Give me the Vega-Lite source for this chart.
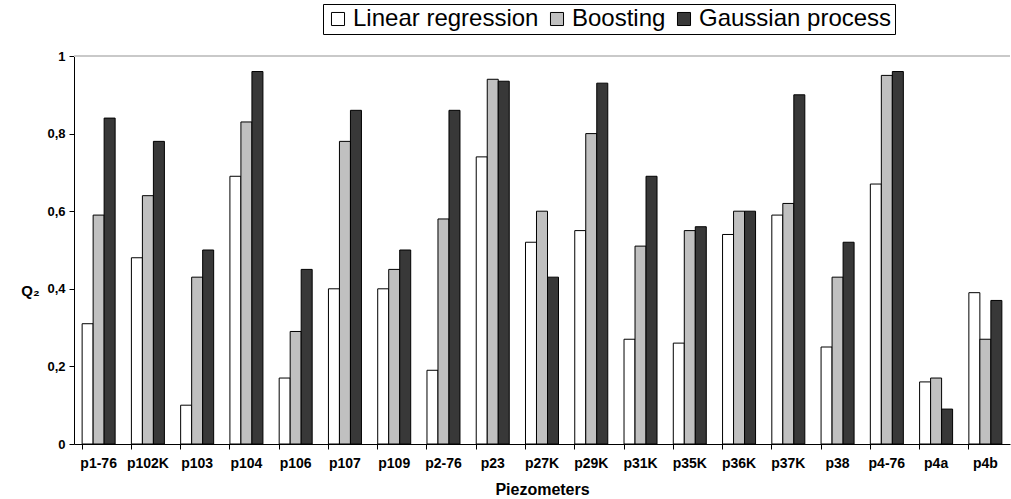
{
  "$schema": "https://vega.github.io/schema/vega-lite/v6.json",
  "width": 936,
  "height": 388,
  "autosize": {"type": "none"},
  "padding": {"left": 74, "top": 56, "right": 1, "bottom": 55},
  "background": "white",
  "config": {
    "view": {"stroke": null},
    "font": "Liberation Sans"
  },
  "data": {
    "values": [
      {"p": "p1-76", "m": "Linear regression", "q": 0.31},
      {"p": "p1-76", "m": "Boosting", "q": 0.59},
      {"p": "p1-76", "m": "Gaussian process", "q": 0.84},
      {"p": "p102K", "m": "Linear regression", "q": 0.48},
      {"p": "p102K", "m": "Boosting", "q": 0.64},
      {"p": "p102K", "m": "Gaussian process", "q": 0.78},
      {"p": "p103", "m": "Linear regression", "q": 0.10},
      {"p": "p103", "m": "Boosting", "q": 0.43},
      {"p": "p103", "m": "Gaussian process", "q": 0.50},
      {"p": "p104", "m": "Linear regression", "q": 0.69},
      {"p": "p104", "m": "Boosting", "q": 0.83},
      {"p": "p104", "m": "Gaussian process", "q": 0.96},
      {"p": "p106", "m": "Linear regression", "q": 0.17},
      {"p": "p106", "m": "Boosting", "q": 0.29},
      {"p": "p106", "m": "Gaussian process", "q": 0.45},
      {"p": "p107", "m": "Linear regression", "q": 0.40},
      {"p": "p107", "m": "Boosting", "q": 0.78},
      {"p": "p107", "m": "Gaussian process", "q": 0.86},
      {"p": "p109", "m": "Linear regression", "q": 0.40},
      {"p": "p109", "m": "Boosting", "q": 0.45},
      {"p": "p109", "m": "Gaussian process", "q": 0.50},
      {"p": "p2-76", "m": "Linear regression", "q": 0.19},
      {"p": "p2-76", "m": "Boosting", "q": 0.58},
      {"p": "p2-76", "m": "Gaussian process", "q": 0.86},
      {"p": "p23", "m": "Linear regression", "q": 0.74},
      {"p": "p23", "m": "Boosting", "q": 0.94},
      {"p": "p23", "m": "Gaussian process", "q": 0.935},
      {"p": "p27K", "m": "Linear regression", "q": 0.52},
      {"p": "p27K", "m": "Boosting", "q": 0.60},
      {"p": "p27K", "m": "Gaussian process", "q": 0.43},
      {"p": "p29K", "m": "Linear regression", "q": 0.55},
      {"p": "p29K", "m": "Boosting", "q": 0.80},
      {"p": "p29K", "m": "Gaussian process", "q": 0.93},
      {"p": "p31K", "m": "Linear regression", "q": 0.27},
      {"p": "p31K", "m": "Boosting", "q": 0.51},
      {"p": "p31K", "m": "Gaussian process", "q": 0.69},
      {"p": "p35K", "m": "Linear regression", "q": 0.26},
      {"p": "p35K", "m": "Boosting", "q": 0.55},
      {"p": "p35K", "m": "Gaussian process", "q": 0.56},
      {"p": "p36K", "m": "Linear regression", "q": 0.54},
      {"p": "p36K", "m": "Boosting", "q": 0.60},
      {"p": "p36K", "m": "Gaussian process", "q": 0.60},
      {"p": "p37K", "m": "Linear regression", "q": 0.59},
      {"p": "p37K", "m": "Boosting", "q": 0.62},
      {"p": "p37K", "m": "Gaussian process", "q": 0.90},
      {"p": "p38", "m": "Linear regression", "q": 0.25},
      {"p": "p38", "m": "Boosting", "q": 0.43},
      {"p": "p38", "m": "Gaussian process", "q": 0.52},
      {"p": "p4-76", "m": "Linear regression", "q": 0.67},
      {"p": "p4-76", "m": "Boosting", "q": 0.95},
      {"p": "p4-76", "m": "Gaussian process", "q": 0.96},
      {"p": "p4a", "m": "Linear regression", "q": 0.16},
      {"p": "p4a", "m": "Boosting", "q": 0.17},
      {"p": "p4a", "m": "Gaussian process", "q": 0.09},
      {"p": "p4b", "m": "Linear regression", "q": 0.39},
      {"p": "p4b", "m": "Boosting", "q": 0.27},
      {"p": "p4b", "m": "Gaussian process", "q": 0.37}
    ]
  },
  "layer": [
    {
      "mark": {"type": "rule", "color": "#c8c8c8", "strokeWidth": 1.5},
      "encoding": {"y": {"datum": 1, "type": "quantitative"}}
    },
    {
      "mark": {"type": "bar", "stroke": "black", "strokeWidth": 1},
      "encoding": {
        "x": {
          "field": "p",
          "type": "nominal",
          "sort": null,
          "scale": {"paddingInner": 0.33, "paddingOuter": 0.165},
          "axis": {
            "title": "Piezometers",
            "titleFontSize": 16,
            "titleFontWeight": "bold",
            "titlePadding": 11,
            "labelAngle": 0,
            "labelFontSize": 14,
            "labelFontWeight": "bold",
            "labelColor": "black",
            "titleColor": "black",
            "labelPadding": 7,
            "domainColor": "black",
            "tickColor": "black",
            "tickSize": 5,
            "bandPosition": 0
          }
        },
        "xOffset": {
          "field": "m",
          "type": "nominal",
          "sort": ["Linear regression", "Boosting", "Gaussian process"],
          "scale": {"paddingInner": 0, "paddingOuter": 0}
        },
        "y": {
          "field": "q",
          "type": "quantitative",
          "scale": {"domain": [0, 1]},
          "axis": {
            "title": "Q₂",
            "titleAngle": 0,
            "titleAlign": "center",
            "titleBaseline": "middle",
            "titleX": -44,
            "titleY": 234,
            "titleFontSize": 15,
            "titleFontWeight": "bold",
            "titleColor": "black",
            "values": [0, 0.2, 0.4, 0.6, 0.8, 1],
            "format": ".1~f",
            "labelExpr": "replace(datum.label, '.', ',')",
            "labelFontSize": 13,
            "labelFontWeight": "bold",
            "labelColor": "black",
            "labelPadding": 4,
            "grid": false,
            "domainColor": "black",
            "tickColor": "black",
            "tickSize": 5
          }
        },
        "fill": {
          "field": "m",
          "type": "nominal",
          "sort": ["Linear regression", "Boosting", "Gaussian process"],
          "scale": {
            "domain": ["Linear regression", "Boosting", "Gaussian process"],
            "range": ["#ffffff", "#c0c0c0", "#383838"]
          },
          "legend": {
            "title": null,
            "orient": "none",
            "direction": "horizontal",
            "legendX": 249,
            "legendY": -52,
            "symbolType": "square",
            "symbolSize": 170,
            "symbolStrokeColor": "black",
            "symbolStrokeWidth": 1,
            "labelFontSize": 24,
            "labelColor": "black",
            "labelOffset": 3,
            "columnPadding": 6,
            "padding": 3,
            "strokeColor": "black",
            "fillColor": "white",
            "labelLimit": 400
          }
        }
      }
    }
  ]
}
